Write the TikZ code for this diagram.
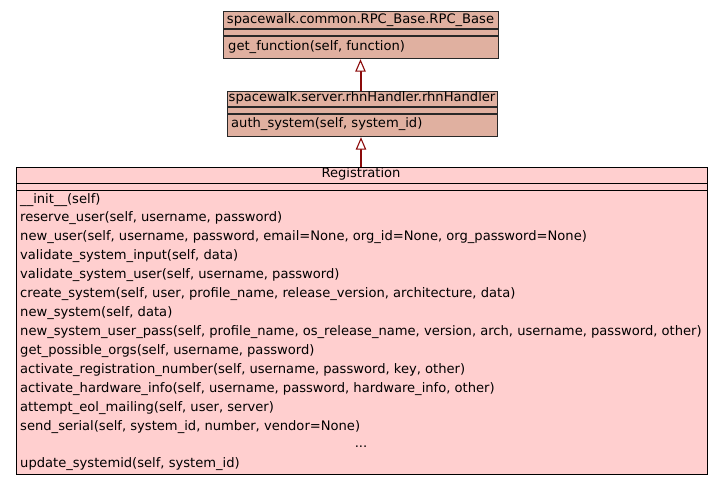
\documentclass[tikz,border=0pt]{standalone}
\usepackage{fontspec}
\setmainfont{DejaVu Sans}
\usetikzlibrary{arrows.meta}
\definecolor{basefill}{RGB}{224,176,160}
\definecolor{regfill}{RGB}{255,207,207}
\definecolor{edgered}{RGB}{139,10,10}
\definecolor{bordergray}{RGB}{40,40,40}
\tikzset{
  box/.style={draw=bordergray, line width=1.2pt, inner sep=0pt, anchor=north west},
  sep/.style={draw=bordergray, line width=1.2pt},
  txt/.style={inner sep=0pt, font=\fontsize{13.1}{15}\selectfont, text height=0.74em, text depth=0.24em},
  inh/.style={draw=edgered, line width=2pt, -{Triangle[open, fill=white, length=12.5pt, width=10.5pt, line width=1.1pt]}},
}
\begin{document}
\begin{tikzpicture}[x=1pt,y=-1pt]
\useasboundingbox (0,0) rectangle (723,485);
% base class
\node[box, fill=basefill, minimum width=275pt, minimum height=47pt] (base) at (223,11) {};
\draw[sep] (223,29) -- (498,29);
\draw[sep] (223,36) -- (498,36);
\node[txt, anchor=center] (basetitle) at (360.5,20.5) {spacewalk.common.RPC\_Base.RPC\_Base};
\node[txt, anchor=west] (basem1) at (228,47.5) {get\_function(self, function)};
% handler
\node[box, fill=basefill, minimum width=270pt, minimum height=45pt] (hand) at (227,91) {};
\draw[sep] (227,107) -- (497,107);
\draw[sep] (227,114) -- (497,114);
\node[txt, anchor=center] (handtitle) at (362,99) {spacewalk.server.rhnHandler.rhnHandler};
\node[txt, anchor=west] (handm1) at (231,125) {auth\_system(self, system\_id)};
% registration
\node[box, fill=regfill, draw=black, minimum width=691pt, minimum height=307pt] (reg) at (16,166.5) {};
\draw[sep, draw=black] (16,183.5) -- (707,183.5);
\draw[sep, draw=black] (16,190.5) -- (707,190.5);
\node[txt, anchor=center] (regtitle) at (361,175) {Registration};
\foreach \t [count=\i from 0] in {
  {\_\_init\_\_(self)},
  {reserve\_user(self, username, password)},
  {new\_user(self, username, password, email=None, org\_id=None, org\_password=None)},
  {validate\_system\_input(self, data)},
  {validate\_system\_user(self, username, password)},
  {create\_system(self, user, profile\_name, release\_version, architecture, data)},
  {new\_system(self, data)},
  {new\_system\_user\_pass(self, profile\_name, os\_release\_name, version, arch, username, password, other)},
  {get\_possible\_orgs(self, username, password)},
  {activate\_registration\_number(self, username, password, key, other)},
  {activate\_hardware\_info(self, username, password, hardware\_info, other)},
  {attempt\_eol\_mailing(self, user, server)},
  {send\_serial(self, system\_id, number, vendor=None)}}
{
  \node[txt, anchor=west] (m\i) at (20,{200.5+18.93*\i}) {\t};
}
\node[txt, anchor=center] (dots) at (361,445) {...};
\node[txt, anchor=west] (mlast) at (20,464.5) {update\_systemid(self, system\_id)};
% inheritance
\draw[inh] (hand.north -| basetitle.south) -- (base.south -| basetitle.south);
\draw[inh] (reg.north -| regtitle.south) -- (hand.south -| regtitle.south);
\end{tikzpicture}
\end{document}
